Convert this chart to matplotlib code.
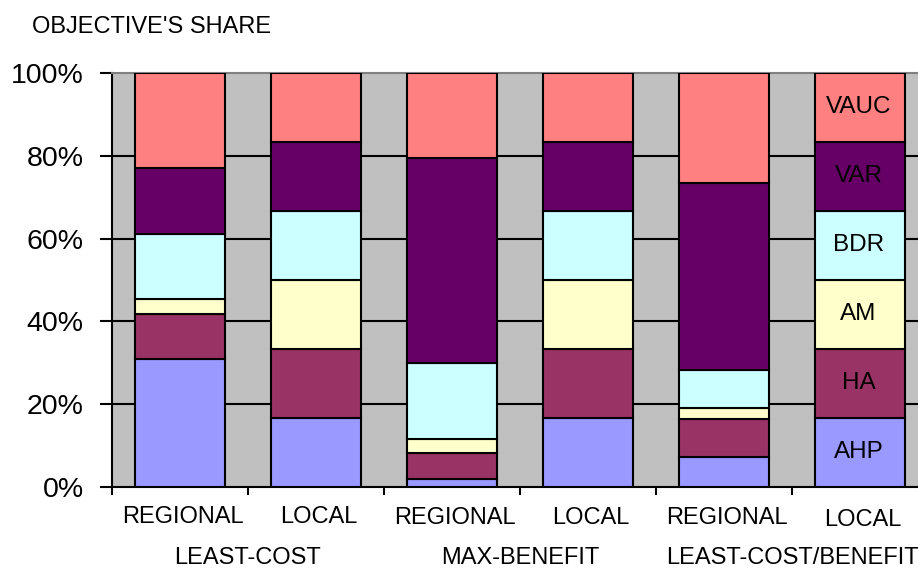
import numpy as np
import matplotlib
matplotlib.use("Agg")
import matplotlib.pyplot as plt
from matplotlib import transforms

plt.rcParams['font.family'] = ['Liberation Sans', 'DejaVu Sans']

categories = ["REGIONAL", "LOCAL", "REGIONAL", "LOCAL", "REGIONAL", "LOCAL"]
groups = ["LEAST-COST", "MAX-BENEFIT", "LEAST-COST/BENEFIT"]
series = ["AHP", "HA", "AM", "BDR", "VAR", "VAUC"]
colors = ["#9999FF", "#993366", "#FFFFCC", "#CCFFFF", "#660066", "#FF8080"]

# share (%) of each objective, one value per bar
ahp  = [30.9, 16.67, 1.9, 16.67, 7.3, 16.67]
ha   = [10.9, 16.67, 6.2, 16.67, 9.1, 16.67]
am   = [3.5, 16.67, 3.5, 16.67, 2.8, 16.67]
bdr  = [15.8, 16.67, 18.4, 16.67, 9.1, 16.67]
var  = [15.9, 16.67, 49.5, 16.67, 45.1, 16.67]
vauc = [23.0, 16.66, 20.5, 16.66, 26.6, 16.66]

data = np.array([ahp, ha, am, bdr, var, vauc])
yticks = [0, 20, 40, 60, 80, 100]

fig = plt.figure(figsize=(9.18, 5.68), dpi=100)
ax = fig.add_axes([112/918, 1-487/568, 816/918, 414/568])
ax.set_facecolor("#C0C0C0")

x = np.arange(len(categories))
bottom = np.zeros(len(categories))
for vals, col in zip(data, colors):
    ax.bar(x, vals, 0.66, bottom=bottom, color=col, edgecolor="black",
           linewidth=1.5, zorder=3)
    bottom += vals

# series names inside the last bar
last = len(categories) - 1
mids = np.cumsum(data[:, last]) - data[:, last] / 2
for name, m in zip(series, mids):
    ax.text(x[last] - 0.01, m, name, ha="center", va="center", fontsize=17.5,
            color="black", zorder=4)

ax.set_xlim(-0.5, 5.5)
ax.set_ylim(0, 100)
ax.set_yticks(yticks)
ax.set_yticklabels([f"{v}%" for v in yticks], fontsize=20.5)
for v in yticks[1:-1]:
    ax.axhline(v, color="black", linewidth=1.5, zorder=1)

ax.set_xticks(np.arange(-0.5, 5.5, 1.0))
ax.set_xticklabels([])
ax.tick_params(axis="x", direction="out", length=6, width=1.5, color="black")
ax.tick_params(axis="y", direction="out", length=8.5, width=1.5, color="black", pad=12)

ax.spines["right"].set_visible(False)
ax.spines["top"].set_color("#808080")
ax.spines["top"].set_linewidth(1.5)
ax.spines["left"].set_linewidth(1.5)
ax.spines["bottom"].set_linewidth(1.5)

trans = transforms.blended_transform_factory(ax.transData, fig.transFigure)
lab_y = [517, 517, 518, 518, 518, 520]
for xi, lab, ly in zip(x, categories, lab_y):
    ax.text(xi + 0.02, 1 - ly/568, lab, transform=trans, ha="center",
            va="center", fontsize=17, clip_on=False)
for gi, g in enumerate(groups):
    ax.text(2 * gi + 0.5, 1 - 558/568, g, transform=trans, ha="center",
            va="center", fontsize=17, clip_on=False)

fig.text(32/918, 1 - 27/568, "OBJECTIVE'S SHARE", ha="left", va="center",
         fontsize=17)

fig.savefig("out.png", dpi=100)
